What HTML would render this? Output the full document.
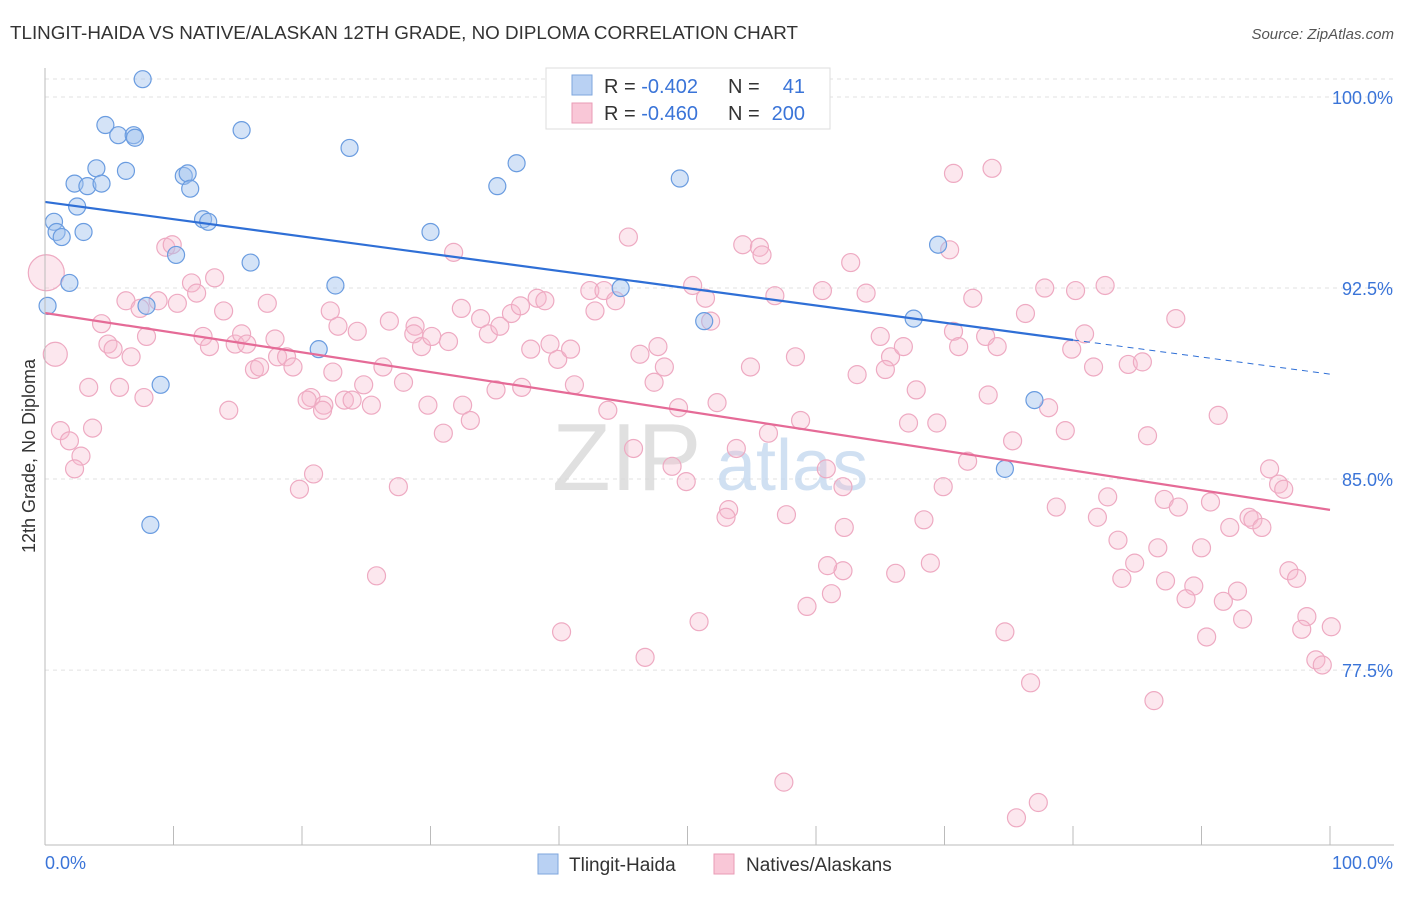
<!DOCTYPE html>
<html><head><meta charset="utf-8">
<style>
body{margin:0;background:#fff;font-family:"Liberation Sans",sans-serif;}
svg text{font-family:"Liberation Sans",sans-serif;}
</style></head>
<body>
<svg id="chart" width="1406" height="892" xmlns="http://www.w3.org/2000/svg">
<text x="10" y="39" font-size="18" fill="#333" textLength="788" lengthAdjust="spacingAndGlyphs">TLINGIT-HAIDA VS NATIVE/ALASKAN 12TH GRADE, NO DIPLOMA CORRELATION CHART</text>
<text x="1394" y="39" font-size="15" fill="#555" text-anchor="end" font-style="italic">Source: ZipAtlas.com</text>
<g id="grid"></g>
<g>
<text x="552" y="490" font-size="96" fill="#d9d9d9" font-family="Liberation Serif" opacity="0.8">ZIP</text>
<text x="716" y="490" font-size="72" fill="#c5d9ef" opacity="0.8">atlas</text>
</g>
<g id="pink"></g>
<g id="blue"></g>
<g id="lines"></g>
<g id="axes"></g>
<text transform="translate(35,456) rotate(-90)" font-size="18" fill="#333" text-anchor="middle">12th Grade, No Diploma</text>
<g>
<rect x="546" y="68" width="284" height="61" fill="#fff" stroke="#ddd"/>
<rect x="572" y="75" width="20" height="20" fill="#b9d1f3" stroke="#7ea6de"/>
<rect x="572" y="103" width="20" height="20" fill="#f9c7d7" stroke="#e99bb6"/>
<text y="93" font-size="20" fill="#333"><tspan x="604">R = </tspan><tspan fill="#3a74d8">-0.402</tspan><tspan x="728">N =</tspan><tspan x="805" text-anchor="end" fill="#3a74d8">41</tspan></text>
<text y="120" font-size="20" fill="#333"><tspan x="604">R = </tspan><tspan fill="#3a74d8">-0.460</tspan><tspan x="728">N =</tspan><tspan x="805" text-anchor="end" fill="#3a74d8">200</tspan></text>
</g>
<g>
<rect x="538" y="854" width="20" height="20" fill="#b9d1f3" stroke="#7ea6de"/>
<text x="569" y="871" font-size="19" fill="#333">Tlingit-Haida</text>
<rect x="714" y="854" width="20" height="20" fill="#f9c7d7" stroke="#e99bb6"/>
<text x="746" y="871" font-size="19" fill="#333">Natives/Alaskans</text>
</g>
</svg>
<script>
const yTicks=[100,92.5,85,77.5];
const yTickLabels=["100.0%","92.5%","85.0%","77.5%"];
const xTickLabels=["0.0%","100.0%"];
const blueX=[7.6,4.7,5.7,6.9,7.0,15.3,23.7,4.0,6.3,36.7,2.3,3.3,4.4,10.8,11.1,11.3,35.2,49.4,2.5,0.7,12.3,12.7,0.9,1.3,3.0,30.0,69.5,10.2,16.0,1.9,22.6,44.8,0.2,7.9,51.3,67.6,21.3,9.0,77.0,74.7,8.2];
const blueY=[100.7,98.9,98.5,98.5,98.4,98.7,98.0,97.2,97.1,97.4,96.6,96.5,96.6,96.9,97.0,96.4,96.5,96.8,95.7,95.1,95.2,95.1,94.7,94.5,94.7,94.7,94.2,93.8,93.5,92.7,92.6,92.5,91.8,91.8,91.2,91.3,90.1,88.7,88.1,85.4,83.2];
const pinkX=[60.2,73.7,70.7,45.4,31.8,54.3,55.6,55.8,70.4,62.7,9.4,9.9,13.2,11.4,11.8,6.3,7.4,8.8,10.3,4.4,4.9,5.3,6.7,7.9,12.3,12.8,13.9,14.8,15.3,15.7,17.3,17.9,16.3,16.7,18.1,18.8,19.3,22.2,22.8,24.3,26.8,28.8,28.7,29.3,30.1,31.4,32.4,33.9,34.5,35.4,36.3,37.0,38.3,38.9,37.8,39.3,39.9,40.9,42.4,43.5,42.8,44.4,50.4,51.4,51.8,56.8,60.5,63.9,72.2,77.8,80.2,82.5,88.0,76.3,65.0,65.8,66.8,70.7,71.1,73.2,74.1,80.9,79.9,81.6,84.3,85.4,46.3,47.7,48.2,58.4,54.9,3.4,5.8,7.7,20.7,21.7,22.4,23.3,23.9,24.8,25.4,26.3,27.9,29.8,32.5,33.1,35.1,37.1,41.2,43.8,47.4,49.3,52.3,58.8,63.2,65.4,67.8,67.2,69.4,73.4,78.1,79.4,91.3,85.8,14.3,20.4,21.6,31.0,1.2,1.9,3.7,2.8,2.3,20.9,19.8,27.5,45.8,48.8,49.9,53.8,56.3,60.8,62.1,69.9,71.8,75.3,95.3,96.0,96.4,82.7,87.1,88.2,90.7,78.7,81.9,92.2,93.7,94.0,94.7,53.2,53.0,57.7,62.2,68.4,83.5,86.6,90.0,84.8,83.8,62.1,60.9,66.2,68.9,96.8,97.4,87.2,89.4,88.8,92.8,91.7,93.2,98.2,61.2,59.3,50.9,40.2,74.7,90.4,97.8,100.1,98.9,99.4,46.7,76.7,86.3,57.5,77.3,75.6,25.8,0.1,0.8];
const pinkY=[99.5,97.2,97.0,94.5,93.9,94.2,94.1,93.8,94.0,93.5,94.1,94.2,92.9,92.7,92.3,92.0,91.7,92.0,91.9,91.1,90.3,90.1,89.8,90.6,90.6,90.2,91.6,90.3,90.7,90.3,91.9,90.5,89.3,89.4,89.8,89.8,89.4,91.6,91.0,90.8,91.2,91.0,90.7,90.2,90.6,90.4,91.7,91.3,90.7,91.0,91.5,91.8,92.1,92.0,90.1,90.3,89.7,90.1,92.4,92.4,91.6,92.0,92.6,92.1,91.2,92.2,92.4,92.3,92.1,92.5,92.4,92.6,91.3,91.5,90.6,89.8,90.2,90.8,90.2,90.6,90.2,90.7,90.1,89.4,89.5,89.6,89.9,90.2,89.4,89.8,89.4,88.6,88.6,88.2,88.2,87.9,89.2,88.1,88.1,88.7,87.9,89.4,88.8,87.9,87.9,87.3,88.5,88.6,88.7,87.7,88.8,87.8,88.0,87.3,89.1,89.3,88.5,87.2,87.2,88.3,87.8,86.9,87.5,86.7,87.7,88.1,87.7,86.8,86.9,86.5,87.0,85.9,85.4,85.2,84.6,84.7,86.2,85.5,84.9,86.2,86.8,85.4,84.7,84.7,85.7,86.5,85.4,84.8,84.6,84.3,84.2,83.9,84.1,83.9,83.5,83.1,83.5,83.4,83.1,83.8,83.5,83.6,83.1,83.4,82.6,82.3,82.3,81.7,81.1,81.4,81.6,81.3,81.7,81.4,81.1,81.0,80.8,80.3,80.6,80.2,79.5,79.6,80.5,80.0,79.4,79.0,79.0,78.8,79.1,79.2,77.9,77.7,78.0,77.0,76.3,73.1,72.3,71.7,81.2,93.1,89.9];
const pinkR=pinkX.map((v,i)=>i===pinkX.length-2?18:(i===pinkX.length-1?12:9));
const blueTrend=[95.88,90.46,89.12]; // at x=0, 80, 100
const pinkTrend=[91.52,83.79]; // at x=0, 100

const NS="http://www.w3.org/2000/svg";
const X=v=>45+v*12.85;
const Y=v=>97+(100-v)*25.47;
function mk(tag,attrs,parent){const e=document.createElementNS(NS,tag);for(const k in attrs)e.setAttribute(k,attrs[k]);parent.appendChild(e);return e;}
const grid=document.getElementById('grid'),axes=document.getElementById('axes');
mk('line',{x1:45,x2:1394,y1:79,y2:79,stroke:'#e2e2e2','stroke-dasharray':'4,4'},grid);
yTicks.forEach((t,i)=>{
  const g=mk('line',{x1:45,x2:1394,y1:Y(t),y2:Y(t),stroke:'#e2e2e2','stroke-dasharray':'4,4'},grid);
  
  
  const tx=mk('text',{x:1393,y:Y(t)+7,'font-size':18,fill:'#3a74d8','text-anchor':'end'},axes);
  tx.textContent=yTickLabels[i];
  
  
});
mk('line',{x1:45,x2:45,y1:68,y2:845,stroke:'#bbb'},axes);
mk('line',{x1:45,x2:1394,y1:845,y2:845,stroke:'#bbb'},axes);
for(let i=0;i<=10;i++){mk('line',{x1:X(i*10),x2:X(i*10),y1:826,y2:845,stroke:'#bbb'},axes);}
[[0,'start',45],[1,'end',1393]].forEach(([i,a,x])=>{
  const t=mk('text',{x:x,y:869,'font-size':18,fill:'#3a74d8','text-anchor':a},axes);
  t.textContent=xTickLabels[i];
  
  
});
const pg=document.getElementById('pink');
pinkX.forEach((v,i)=>{
  const c=mk('circle',{cx:X(v),cy:Y(pinkY[i]),r:pinkR[i],fill:'rgba(246,185,205,0.35)',stroke:'#eeaac2','stroke-width':1.2},pg);
  
  
});
const bg=document.getElementById('blue');
blueX.forEach((v,i)=>{
  const c=mk('circle',{cx:X(v),cy:Y(blueY[i]),r:8.5,fill:'rgba(160,192,238,0.45)',stroke:'#6a9ce0','stroke-width':1.2},bg);
  
  
});
const lg=document.getElementById('lines');
const bl=mk('line',{x1:X(0),y1:Y(blueTrend[0]),x2:X(80),y2:Y(blueTrend[1]),stroke:'#2f6fd6','stroke-width':2.2},lg);


const bd=mk('line',{x1:X(80),y1:Y(blueTrend[1]),x2:X(100),y2:Y(blueTrend[2]),stroke:'#2f6fd6','stroke-width':1,'stroke-dasharray':'6,5'},lg);


const pl=mk('line',{x1:X(0),y1:Y(pinkTrend[0]),x2:X(100),y2:Y(pinkTrend[1]),stroke:'#e56b97','stroke-width':2.2},lg);


</script>
</body></html>
